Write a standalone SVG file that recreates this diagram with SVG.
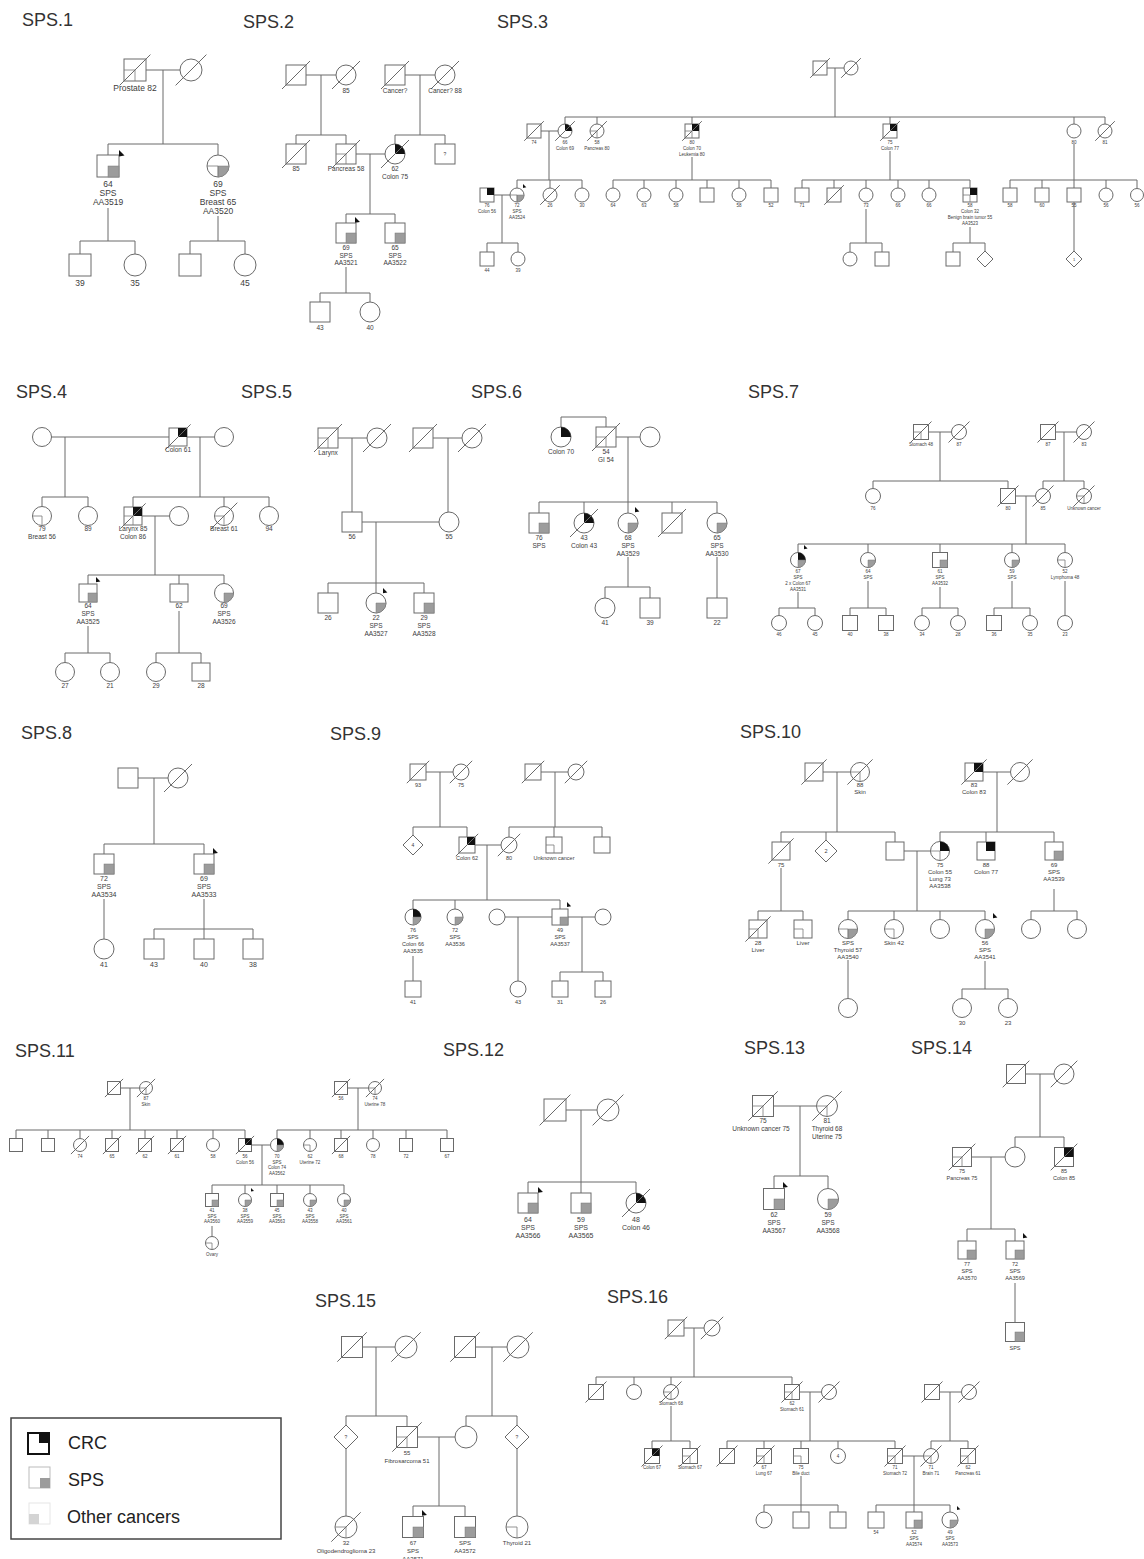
<svg xmlns="http://www.w3.org/2000/svg" width="1144" height="1559" viewBox="0 0 1144 1559">
<defs>
<style>
text{font-family:"Liberation Sans",Arial,sans-serif;fill:#3c3c3c;text-anchor:middle}
.h{font-size:18px;fill:#333;text-anchor:start}
.lg{font-size:18px;fill:#222;text-anchor:start}
.n{fill:#fff;stroke:#6a6a6a;stroke-width:1}
.c{fill:none;stroke:#6a6a6a;stroke-width:1}
.q{fill:#9c9c9c;stroke:#7a7a7a;stroke-width:.5}
.k{fill:#111}
.o{fill:none;stroke:#7a7a7a;stroke-width:.8}
</style>
<path id="pb" d="M0,0 L0,6.5 L5.5,5.5 Z" fill="#111"/>
</defs>
<rect width="1144" height="1559" fill="#fff"/>

<!-- SPS.1 -->
<g id="sps1" font-size="8.5">
<text class="h" x="22" y="26">SPS.1</text>
<g id="sps1-links" class="c"><path d="M146,70H180M163,70V144M108,144H218M108,144V155M218,144V155M108,208V241M80,241H135M80,241V254M135,241V254M218,216V241M190,241H245M190,241V254M245,241V254"/></g>
<g id="sps1-i1"><rect class="n" x="124" y="59" width="22" height="22"/><path class="o" d="M124,70h11v11"/><path class="c" d="M119.6,85.4l30.8,-30.8"/><text x="135" y="91">Prostate 82</text></g>
<g id="sps1-i2"><circle class="n" cx="191" cy="70" r="11"/><path class="c" d="M175.6,85.4l30.8,-30.8"/></g>
<g id="sps1-ii1"><rect class="n" x="97" y="155" width="22" height="22"/><rect class="q" x="108" y="166" width="11" height="11"/><use href="#pb" transform="translate(119,150)"/><text x="108" y="187">64<tspan x="108" dy="9">SPS</tspan><tspan x="108" dy="9">AA3519</tspan></text></g>
<g id="sps1-ii2"><circle class="n" cx="218" cy="166" r="11"/><path class="q" d="M218,166h11a11,11 0 0 1 -11,11z"/><path class="o" d="M207,166h11v11"/><text x="218" y="187">69<tspan x="218" dy="9">SPS</tspan><tspan x="218" dy="9">Breast 65</tspan><tspan x="218" dy="9">AA3520</tspan></text></g>
<g id="sps1-iii1"><rect class="n" x="69" y="254" width="22" height="22"/><text x="80" y="286">39</text></g>
<g id="sps1-iii2"><circle class="n" cx="135" cy="265" r="11"/><text x="135" y="286">35</text></g>
<g id="sps1-iii3"><rect class="n" x="179" y="254" width="22" height="22"/></g>
<g id="sps1-iii4"><circle class="n" cx="245" cy="265" r="11"/><text x="245" y="286">45</text></g>
</g>

<!-- SPS.2 -->
<g id="sps2" font-size="6.5">
<text class="h" x="243" y="28">SPS.2</text>
<g id="sps2-links" class="c"><path d="M306,75H336M321,75V135M296,135H346M296,135V144M346,135V144M405,75H435M420,75V135M395,135H445M395,135V144M445,135V144M356,154H385M370,154V214M346,214H395M346,214V223M395,214V223M346,267V293M320,293H370M320,293V302M370,293V302"/></g>
<g id="sps2-i1"><rect class="n" x="286" y="65" width="20" height="20"/><path class="c" d="M282,89l28,-28"/></g>
<g id="sps2-i2"><circle class="n" cx="346" cy="75" r="10"/><path class="c" d="M332,89l28,-28"/><text x="346" y="93">85</text></g>
<g id="sps2-i3"><rect class="n" x="385" y="65" width="20" height="20"/><path class="c" d="M381,89l28,-28"/><text x="395" y="93">Cancer?</text></g>
<g id="sps2-i4"><circle class="n" cx="445" cy="75" r="10"/><path class="c" d="M431,89l28,-28"/><text x="445" y="93">Cancer? 88</text></g>
<g id="sps2-ii1"><rect class="n" x="286" y="144" width="20" height="20"/><path class="c" d="M282,168l28,-28"/><text x="296" y="171">85</text></g>
<g id="sps2-ii2"><rect class="n" x="336" y="144" width="20" height="20"/><path class="o" d="M336,154h10v10"/><path class="c" d="M332,168l28,-28"/><text x="346" y="171">Pancreas 58</text></g>
<g id="sps2-ii3"><circle class="n" cx="395" cy="154" r="10"/><path class="k" d="M395,154v-10a10,10 0 0 1 10,10z"/><path class="c" d="M381,168l28,-28"/><text x="395" y="171">62<tspan x="395" dy="7.5">Colon 75</tspan></text></g>
<g id="sps2-ii4"><rect class="n" x="435" y="144" width="20" height="20"/><text x="445" y="156" font-size="5">?</text></g>
<g id="sps2-iii1"><rect class="n" x="336" y="223" width="20" height="20"/><rect class="q" x="346" y="233" width="10" height="10"/><use href="#pb" transform="translate(355,217) scale(.9)"/><text x="346" y="250">69<tspan x="346" dy="7.5">SPS</tspan><tspan x="346" dy="7.5">AA3521</tspan></text></g>
<g id="sps2-iii2"><rect class="n" x="385" y="223" width="20" height="20"/><rect class="q" x="395" y="233" width="10" height="10"/><text x="395" y="250">65<tspan x="395" dy="7.5">SPS</tspan><tspan x="395" dy="7.5">AA3522</tspan></text></g>
<g id="sps2-iv1"><rect class="n" x="310" y="302" width="20" height="20"/><text x="320" y="330">43</text></g>
<g id="sps2-iv2"><circle class="n" cx="370" cy="312" r="10"/><text x="370" y="330">40</text></g>
</g>

<!-- SPS.3 -->
<g id="sps3" font-size="4.5">
<text class="h" x="497" y="28">SPS.3</text>
<g id="sps3-links" class="c"><path d="M827,68H844M835,68V117M565,117H1105M565,117V124M597,117V124M692,117V124M890,117V124M1074,117V124M1105,117V124M541,131H558M549,131V180M517,180H582M517,180V188M550,180V188M582,180V188M494,195H510M502,195V243M487,243H518M487,243V252M518,243V252M692,157V180M613,180H771M613,180V188M644,180V188M676,180V188M707,180V188M739,180V188M771,180V188M890,151V180M802,180H970M802,180V188M834,180V188M866,180V188M898,180V188M929,180V188M970,180V188M866,209V243M850,243H882M850,243V252M882,243V252M970,227V243M953,243H985M953,243V252M985,243V251M1074,144V180M1010,180H1137M1010,180V188M1042,180V188M1106,180V188M1137,180V188M1074,180V251"/></g>
<g id="sps3-i1"><rect class="n" x="813" y="61" width="14" height="14"/><path class="c" d="M810.2,77.8l19.6,-19.6"/></g>
<g id="sps3-i2"><circle class="n" cx="851" cy="68" r="7"/><path class="c" d="M841.2,77.8l19.6,-19.6"/></g>
<g id="sps3-ii1"><rect class="n" x="527" y="124" width="14" height="14"/><path class="c" d="M524.2,140.8l19.6,-19.6"/><text x="534" y="144">74</text></g>
<g id="sps3-ii2"><circle class="n" cx="565" cy="131" r="7"/><path class="k" d="M565,131v-7a7,7 0 0 1 7,7z"/><path class="c" d="M555.2,140.8l19.6,-19.6"/><text x="565" y="144">66<tspan x="565" dy="6">Colon 69</tspan></text></g>
<g id="sps3-ii3"><circle class="n" cx="597" cy="131" r="7"/><path class="o" d="M590,131h7v7"/><path class="c" d="M587.2,140.8l19.6,-19.6"/><text x="597" y="144">58<tspan x="597" dy="6">Pancreas 80</tspan></text></g>
<g id="sps3-ii4"><rect class="n" x="685" y="124" width="14" height="14"/><rect class="k" x="692" y="124" width="7" height="7"/><path class="o" d="M685,131h7v7"/><path class="c" d="M682.2,140.8l19.6,-19.6"/><text x="692" y="144">80<tspan x="692" dy="6">Colon 70</tspan><tspan x="692" dy="6">Leukemia 80</tspan></text></g>
<g id="sps3-ii5"><rect class="n" x="883" y="124" width="14" height="14"/><rect class="k" x="890" y="124" width="7" height="7"/><path class="c" d="M880.2,140.8l19.6,-19.6"/><text x="890" y="144">75<tspan x="890" dy="6">Colon 77</tspan></text></g>
<g id="sps3-ii6"><circle class="n" cx="1074" cy="131" r="7"/><text x="1074" y="144">80</text></g>
<g id="sps3-ii7"><circle class="n" cx="1105" cy="131" r="7"/><path class="c" d="M1095.2,140.8l19.6,-19.6"/><text x="1105" y="144">81</text></g>
<g id="sps3-iii1"><rect class="n" x="480" y="188" width="14" height="14"/><rect class="k" x="487" y="188" width="7" height="7"/><text x="487" y="207">76<tspan x="487" dy="6">Colon 56</tspan></text></g>
<g id="sps3-iii2"><circle class="n" cx="517" cy="195" r="7"/><path class="q" d="M517,195h7a7,7 0 0 1 -7,7z"/><path class="o" d="M510,195h7v7"/><use href="#pb" transform="translate(523,184) scale(.6)"/><text x="517" y="207">72<tspan x="517" dy="6">SPS</tspan><tspan x="517" dy="6">AA3524</tspan></text></g>
<g id="sps3-iii3"><circle class="n" cx="550" cy="195" r="7"/><path class="c" d="M540.2,204.8l19.6,-19.6"/><text x="550" y="207">26</text></g>
<g id="sps3-iii4"><circle class="n" cx="582" cy="195" r="7"/><text x="582" y="207">30</text></g>
<g id="sps3-iii5"><circle class="n" cx="613" cy="195" r="7"/><text x="613" y="207">64</text></g>
<g id="sps3-iii6"><circle class="n" cx="644" cy="195" r="7"/><text x="644" y="207">63</text></g>
<g id="sps3-iii7"><circle class="n" cx="676" cy="195" r="7"/><text x="676" y="207">58</text></g>
<g id="sps3-iii8"><rect class="n" x="700" y="188" width="14" height="14"/></g>
<g id="sps3-iii9"><circle class="n" cx="739" cy="195" r="7"/><text x="739" y="207">58</text></g>
<g id="sps3-iii10"><rect class="n" x="764" y="188" width="14" height="14"/><text x="771" y="207">52</text></g>
<g id="sps3-iii11"><rect class="n" x="795" y="188" width="14" height="14"/><text x="802" y="207">71</text></g>
<g id="sps3-iii12"><rect class="n" x="827" y="188" width="14" height="14"/><path class="c" d="M824.2,204.8l19.6,-19.6"/></g>
<g id="sps3-iii13"><circle class="n" cx="866" cy="195" r="7"/><text x="866" y="207">73</text></g>
<g id="sps3-iii14"><circle class="n" cx="898" cy="195" r="7"/><text x="898" y="207">66</text></g>
<g id="sps3-iii15"><circle class="n" cx="929" cy="195" r="7"/><text x="929" y="207">66</text></g>
<g id="sps3-iii16"><rect class="n" x="963" y="188" width="14" height="14"/><rect class="k" x="970" y="188" width="7" height="7"/><path class="o" d="M963,195h7v7"/><text x="970" y="207">58<tspan x="970" dy="6">Colon 32</tspan><tspan x="970" dy="6">Benign brain tumor 55</tspan><tspan x="970" dy="6">AA3523</tspan></text></g>
<g id="sps3-iii17"><rect class="n" x="1003" y="188" width="14" height="14"/><text x="1010" y="207">58</text></g>
<g id="sps3-iii18"><rect class="n" x="1035" y="188" width="14" height="14"/><text x="1042" y="207">60</text></g>
<g id="sps3-iii19"><rect class="n" x="1067" y="188" width="14" height="14"/><text x="1074" y="207">55</text></g>
<g id="sps3-iii20"><circle class="n" cx="1106" cy="195" r="7"/><text x="1106" y="207">56</text></g>
<g id="sps3-iii21"><circle class="n" cx="1137" cy="195" r="6.5"/><text x="1137" y="207">56</text></g>
<g id="sps3-iv1"><rect class="n" x="480" y="252" width="14" height="14"/><text x="487" y="272">44</text></g>
<g id="sps3-iv2"><circle class="n" cx="518" cy="259" r="7"/><text x="518" y="272">39</text></g>
<g id="sps3-iv3"><circle class="n" cx="850" cy="259" r="7"/></g>
<g id="sps3-iv4"><rect class="n" x="875" y="252" width="14" height="14"/></g>
<g id="sps3-iv5"><rect class="n" x="946" y="252" width="14" height="14"/></g>
<g id="sps3-iv6"><polygon class="n" points="985,251 993,259 985,267 977,259"/></g>
<g id="sps3-iv7"><polygon class="n" points="1074,251 1082,259 1074,267 1066,259"/><text x="1074" y="261" font-size="4">1</text></g>
</g>

<!-- SPS.4 -->
<g id="sps4" font-size="6.5">
<text class="h" x="16" y="398">SPS.4</text>
<g id="sps4-links" class="c"><path d="M51.5,437H169M65,437V497M42,497H88M42,497V506.5M88,497V506.5M187,437H214.5M200,437V497M133,497H269M133,497V507M224,497V506.5M269,497V506.5M142,516H169.5M155,516V575M88,575H224M88,575V584M179,575V584M224,575V583.5M88,626V653M65,653H110M65,653V662.5M110,653V662.5M179,611V653M156,653H201M156,653V662.5M201,653V663"/></g>
<g id="sps4-i1"><circle class="n" cx="42" cy="437" r="9.5"/></g>
<g id="sps4-i2"><rect class="n" x="169" y="428" width="18" height="18"/><rect class="k" x="178" y="428" width="9" height="9"/><path class="c" d="M165.4,449.6l25.2,-25.2"/><text x="178" y="452">Colon 61</text></g>
<g id="sps4-i3"><circle class="n" cx="224" cy="437" r="9.5"/></g>
<g id="sps4-ii1"><circle class="n" cx="42" cy="516" r="9.5"/><path class="o" d="M32.5,516h9.5v9.5"/><text x="42" y="531">79<tspan x="42" dy="8">Breast 56</tspan></text></g>
<g id="sps4-ii2"><circle class="n" cx="88" cy="516" r="9.5"/><text x="88" y="531">89</text></g>
<g id="sps4-ii3"><rect class="n" x="124" y="507" width="18" height="18"/><rect class="k" x="133" y="507" width="9" height="9"/><path class="o" d="M124,516h9v9"/><path class="c" d="M120.4,528.6l25.2,-25.2"/><text x="133" y="531">Larynx 85<tspan x="133" dy="8">Colon 86</tspan></text></g>
<g id="sps4-ii4"><circle class="n" cx="179" cy="516" r="9.5"/></g>
<g id="sps4-ii5"><circle class="n" cx="224" cy="516" r="9.5"/><path class="o" d="M214.5,516h9.5v9.5"/><path class="c" d="M210.7,529.3l26.6,-26.6"/><text x="224" y="531">Breast 61</text></g>
<g id="sps4-ii6"><circle class="n" cx="269" cy="516" r="9.5"/><text x="269" y="531">94</text></g>
<g id="sps4-iii1"><rect class="n" x="79" y="584" width="18" height="18"/><rect class="q" x="88" y="593" width="9" height="9"/><use href="#pb" transform="translate(96,577) scale(.8)"/><text x="88" y="608">64<tspan x="88" dy="8">SPS</tspan><tspan x="88" dy="8">AA3525</tspan></text></g>
<g id="sps4-iii2"><rect class="n" x="170" y="584" width="18" height="18"/><text x="179" y="608">62</text></g>
<g id="sps4-iii3"><circle class="n" cx="224" cy="593" r="9.5"/><path class="q" d="M224,593h9.5a9.5,9.5 0 0 1 -9.5,9.5z"/><text x="224" y="608">69<tspan x="224" dy="8">SPS</tspan><tspan x="224" dy="8">AA3526</tspan></text></g>
<g id="sps4-iv1"><circle class="n" cx="65" cy="672" r="9.5"/><text x="65" y="688">27</text></g>
<g id="sps4-iv2"><circle class="n" cx="110" cy="672" r="9.5"/><text x="110" y="688">21</text></g>
<g id="sps4-iv3"><circle class="n" cx="156" cy="672" r="9.5"/><text x="156" y="688">29</text></g>
<g id="sps4-iv4"><rect class="n" x="192" y="663" width="18" height="18"/><text x="201" y="688">28</text></g>
</g>

<!-- SPS.5 -->
<g id="sps5" font-size="6.5">
<text class="h" x="241" y="398">SPS.5</text>
<g id="sps5-links" class="c"><path d="M338,438H367M352,438V512M433,438H462M448,438V512M362,522H439M376,522V583M328,583H424M328,583V593M376,583V593M424,583V593"/></g>
<g id="sps5-i1"><rect class="n" x="318" y="428" width="20" height="20"/><path class="o" d="M318,438h10v10"/><path class="c" d="M314,452l28,-28"/><text x="328" y="455">Larynx</text></g>
<g id="sps5-i2"><circle class="n" cx="377" cy="438" r="10"/><path class="c" d="M363,452l28,-28"/></g>
<g id="sps5-i3"><rect class="n" x="413" y="428" width="20" height="20"/><path class="c" d="M409,452l28,-28"/></g>
<g id="sps5-i4"><circle class="n" cx="472" cy="438" r="10"/><path class="c" d="M458,452l28,-28"/></g>
<g id="sps5-ii1"><rect class="n" x="342" y="512" width="20" height="20"/><text x="352" y="539">56</text></g>
<g id="sps5-ii2"><circle class="n" cx="449" cy="522" r="10"/><text x="449" y="539">55</text></g>
<g id="sps5-iii1"><rect class="n" x="318" y="593" width="20" height="20"/><text x="328" y="620">26</text></g>
<g id="sps5-iii2"><circle class="n" cx="376" cy="603" r="10"/><path class="q" d="M376,603h10a10,10 0 0 1 -10,10z"/><use href="#pb" transform="translate(383,588) scale(.8)"/><text x="376" y="620">22<tspan x="376" dy="8">SPS</tspan><tspan x="376" dy="8">AA3527</tspan></text></g>
<g id="sps5-iii3"><rect class="n" x="414" y="593" width="20" height="20"/><rect class="q" x="424" y="603" width="10" height="10"/><text x="424" y="620">29<tspan x="424" dy="8">SPS</tspan><tspan x="424" dy="8">AA3528</tspan></text></g>
</g>

<!-- SPS.6 -->
<g id="sps6" font-size="6.5">
<text class="h" x="471" y="398">SPS.6</text>
<g id="sps6-links" class="c"><path d="M561,427V417H606V427M616,437H640M628,437V502M539,502H717M539,502V513M584,502V513M628,502V513M672,502V513M717,502V513M628,557V587M605,587H650M605,587V598M650,587V598M717,557V598"/></g>
<g id="sps6-i1"><circle class="n" cx="561" cy="437" r="10"/><path class="k" d="M561,437v-10a10,10 0 0 1 10,10z"/><text x="561" y="454">Colon 70</text></g>
<g id="sps6-i2"><rect class="n" x="596" y="427" width="20" height="20"/><path class="o" d="M596,437h10v10"/><path class="c" d="M592,451l28,-28"/><text x="606" y="454">54<tspan x="606" dy="8">GI 54</tspan></text></g>
<g id="sps6-i3"><circle class="n" cx="650" cy="437" r="10"/></g>
<g id="sps6-ii1"><rect class="n" x="529" y="513" width="20" height="20"/><rect class="q" x="539" y="523" width="10" height="10"/><text x="539" y="540">76<tspan x="539" dy="8">SPS</tspan></text></g>
<g id="sps6-ii2"><circle class="n" cx="584" cy="523" r="10"/><path class="k" d="M584,523v-10a10,10 0 0 1 10,10z"/><path class="c" d="M570,537l28,-28"/><text x="584" y="540">43<tspan x="584" dy="8">Colon 43</tspan></text></g>
<g id="sps6-ii3"><circle class="n" cx="628" cy="523" r="10"/><path class="q" d="M628,523h10a10,10 0 0 1 -10,10z"/><use href="#pb" transform="translate(635,507) scale(.8)"/><text x="628" y="540">68<tspan x="628" dy="8">SPS</tspan><tspan x="628" dy="8">AA3529</tspan></text></g>
<g id="sps6-ii4"><rect class="n" x="662" y="513" width="20" height="20"/><path class="c" d="M658,537l28,-28"/></g>
<g id="sps6-ii5"><circle class="n" cx="717" cy="523" r="10"/><path class="q" d="M717,523h10a10,10 0 0 1 -10,10z"/><text x="717" y="540">65<tspan x="717" dy="8">SPS</tspan><tspan x="717" dy="8">AA3530</tspan></text></g>
<g id="sps6-iii1"><circle class="n" cx="605" cy="608" r="10"/><text x="605" y="625">41</text></g>
<g id="sps6-iii2"><rect class="n" x="640" y="598" width="20" height="20"/><text x="650" y="625">39</text></g>
<g id="sps6-iii3"><rect class="n" x="707" y="598" width="20" height="20"/><text x="717" y="625">22</text></g>
</g>

<!-- SPS.7 -->
<g id="sps7" font-size="4.5">
<text class="h" x="748" y="398">SPS.7</text>
<g id="sps7-links" class="c"><path d="M928.5,432H951.5M940,432V481M873,481H1008M873,481V488.5M1008,481V488.5M1055.5,432H1076.5M1064,432V481M1043,481H1084M1043,481V488.5M1084,481V488.5M1015.5,496H1035.5M1026,496V544M798,544H1065M798,544V552.5M868,544V552.5M940,544V552.5M1012,544V552.5M1065,544V552.5M798,592V608M779,608H815M779,608V615.5M815,608V615.5M868,581V608M850,608H886M850,608V615.5M886,608V615.5M940,587V608M922,608H958M922,608V615.5M958,608V615.5M1012,581V608M994,608H1030M994,608V615.5M1030,608V615.5M1065,581V615.5"/></g>
<g id="sps7-i1"><rect class="n" x="913.5" y="424.5" width="15" height="15"/><path class="o" d="M913.5,432h7.5v7.5"/><path class="c" d="M910.5,442.5l21,-21"/><text x="921" y="446">Stomach 48</text></g>
<g id="sps7-i2"><circle class="n" cx="959" cy="432" r="7.5"/><path class="c" d="M948.5,442.5l21,-21"/><text x="959" y="446">87</text></g>
<g id="sps7-i3"><rect class="n" x="1040.5" y="424.5" width="15" height="15"/><path class="c" d="M1037.5,442.5l21,-21"/><text x="1048" y="446">87</text></g>
<g id="sps7-i4"><circle class="n" cx="1084" cy="432" r="7.5"/><path class="c" d="M1073.5,442.5l21,-21"/><text x="1084" y="446">83</text></g>
<g id="sps7-ii1"><circle class="n" cx="873" cy="496" r="7.5"/><text x="873" y="510">76</text></g>
<g id="sps7-ii2"><rect class="n" x="1000.5" y="488.5" width="15" height="15"/><path class="c" d="M997.5,506.5l21,-21"/><text x="1008" y="510">80</text></g>
<g id="sps7-ii3"><circle class="n" cx="1043" cy="496" r="7.5"/><path class="c" d="M1032.5,506.5l21,-21"/><text x="1043" y="510">85</text></g>
<g id="sps7-ii4"><circle class="n" cx="1084" cy="496" r="7.5"/><path class="o" d="M1076.5,496h7.5v7.5"/><path class="c" d="M1073.5,506.5l21,-21"/><text x="1084" y="510">Unknown cancer</text></g>
<g id="sps7-iii1"><circle class="n" cx="798" cy="560" r="7.5"/><path class="k" d="M798,560v-7.5a7.5,7.5 0 0 1 7.5,7.5z"/><path class="q" d="M798,560h7.5a7.5,7.5 0 0 1 -7.5,7.5z"/><use href="#pb" transform="translate(804,545) scale(.65)"/><text x="798" y="573">67<tspan x="798" dy="6">SPS</tspan><tspan x="798" dy="6">2 x Colon 67</tspan><tspan x="798" dy="6">AA3531</tspan></text></g>
<g id="sps7-iii2"><circle class="n" cx="868" cy="560" r="7.5"/><path class="q" d="M868,560h7.5a7.5,7.5 0 0 1 -7.5,7.5z"/><text x="868" y="573">64<tspan x="868" dy="6">SPS</tspan></text></g>
<g id="sps7-iii3"><rect class="n" x="932.5" y="552.5" width="15" height="15"/><rect class="q" x="940" y="560" width="7.5" height="7.5"/><text x="940" y="573">61<tspan x="940" dy="6">SPS</tspan><tspan x="940" dy="6">AA3532</tspan></text></g>
<g id="sps7-iii4"><circle class="n" cx="1012" cy="560" r="7.5"/><path class="q" d="M1012,560h7.5a7.5,7.5 0 0 1 -7.5,7.5z"/><text x="1012" y="573">59<tspan x="1012" dy="6">SPS</tspan></text></g>
<g id="sps7-iii5"><circle class="n" cx="1065" cy="560" r="7.5"/><path class="o" d="M1057.5,560h7.5v7.5"/><text x="1065" y="573">52<tspan x="1065" dy="6">Lymphoma 48</tspan></text></g>
<g id="sps7-iv1"><circle class="n" cx="779" cy="623" r="7.5"/><text x="779" y="636">46</text></g>
<g id="sps7-iv2"><circle class="n" cx="815" cy="623" r="7.5"/><text x="815" y="636">45</text></g>
<g id="sps7-iv3"><rect class="n" x="842.5" y="615.5" width="15" height="15"/><text x="850" y="636">40</text></g>
<g id="sps7-iv4"><rect class="n" x="878.5" y="615.5" width="15" height="15"/><text x="886" y="636">38</text></g>
<g id="sps7-iv5"><circle class="n" cx="922" cy="623" r="7.5"/><text x="922" y="636">34</text></g>
<g id="sps7-iv6"><circle class="n" cx="958" cy="623" r="7.5"/><text x="958" y="636">28</text></g>
<g id="sps7-iv7"><rect class="n" x="986.5" y="615.5" width="15" height="15"/><text x="994" y="636">36</text></g>
<g id="sps7-iv8"><circle class="n" cx="1030" cy="623" r="7.5"/><text x="1030" y="636">35</text></g>
<g id="sps7-iv9"><circle class="n" cx="1065" cy="623" r="7.5"/><text x="1065" y="636">23</text></g>
</g>

<!-- SPS.8 -->
<g id="sps8" font-size="7">
<text class="h" x="21" y="739">SPS.8</text>
<g id="sps8-links" class="c"><path d="M138,778H168M154,778V844M104,844H204M104,844V854M204,844V854M104,899V939M204,899V929M154,929H253M154,929V939M204,929V939M253,929V939"/></g>
<g id="sps8-i1"><rect class="n" x="118" y="768" width="20" height="20"/></g>
<g id="sps8-i2"><circle class="n" cx="178" cy="778" r="10"/><path class="c" d="M164,792l28,-28"/></g>
<g id="sps8-ii1"><rect class="n" x="94" y="854" width="20" height="20"/><rect class="q" x="104" y="864" width="10" height="10"/><text x="104" y="881">72<tspan x="104" dy="8">SPS</tspan><tspan x="104" dy="8">AA3534</tspan></text></g>
<g id="sps8-ii2"><rect class="n" x="194" y="854" width="20" height="20"/><rect class="q" x="204" y="864" width="10" height="10"/><use href="#pb" transform="translate(213,848) scale(.9)"/><text x="204" y="881">69<tspan x="204" dy="8">SPS</tspan><tspan x="204" dy="8">AA3533</tspan></text></g>
<g id="sps8-iii1"><circle class="n" cx="104" cy="949" r="10"/><text x="104" y="967">41</text></g>
<g id="sps8-iii2"><rect class="n" x="144" y="939" width="20" height="20"/><text x="154" y="967">43</text></g>
<g id="sps8-iii3"><rect class="n" x="194" y="939" width="20" height="20"/><text x="204" y="967">40</text></g>
<g id="sps8-iii4"><rect class="n" x="243" y="939" width="20" height="20"/><text x="253" y="967">38</text></g>
</g>

<!-- SPS.9 -->
<g id="sps9" font-size="5.5">
<text class="h" x="330" y="740">SPS.9</text>
<g id="sps9-links" class="c"><path d="M426,772H453M440,772V827M413,827H467M413,827V835M467,827V837M541,772H568M555,772V827M509,827H602M509,827V837M554,827V837M602,827V837M475,845H501M487,845V900M413,900H560M413,900V909M455,900V909M560,900V909M505,917H552M518,917V981M568,917H595M582,917V972M560,972H603M560,972V981M603,972V981M413,956V981"/></g>
<g id="sps9-i1"><rect class="n" x="410" y="764" width="16" height="16"/><path class="c" d="M406.8,783.2l22.4,-22.4"/><text x="418" y="787">93</text></g>
<g id="sps9-i2"><circle class="n" cx="461" cy="772" r="8"/><path class="c" d="M449.8,783.2l22.4,-22.4"/><text x="461" y="787">75</text></g>
<g id="sps9-i3"><rect class="n" x="525" y="764" width="16" height="16"/><path class="c" d="M521.8,783.2l22.4,-22.4"/></g>
<g id="sps9-i4"><circle class="n" cx="576" cy="772" r="8"/><path class="c" d="M564.8,783.2l22.4,-22.4"/></g>
<g id="sps9-ii1"><polygon class="n" points="413,835 423,845 413,855 403,845"/><text x="413" y="847" font-size="5">4</text></g>
<g id="sps9-ii2"><rect class="n" x="459" y="837" width="16" height="16"/><rect class="k" x="467" y="837" width="8" height="8"/><path class="c" d="M455.8,856.2l22.4,-22.4"/><text x="467" y="860">Colon 62</text></g>
<g id="sps9-ii3"><circle class="n" cx="509" cy="845" r="8"/><path class="c" d="M497.8,856.2l22.4,-22.4"/><text x="509" y="860">80</text></g>
<g id="sps9-ii4"><rect class="n" x="546" y="837" width="16" height="16"/><path class="o" d="M546,845h8v8"/><text x="554" y="860">Unknown cancer</text></g>
<g id="sps9-ii5"><rect class="n" x="594" y="837" width="16" height="16"/></g>
<g id="sps9-iii1"><circle class="n" cx="413" cy="917" r="8"/><path class="k" d="M413,917v-8a8,8 0 0 1 8,8z"/><path class="q" d="M413,917h8a8,8 0 0 1 -8,8z"/><text x="413" y="932">76<tspan x="413" dy="7">SPS</tspan><tspan x="413" dy="7">Colon 66</tspan><tspan x="413" dy="7">AA3535</tspan></text></g>
<g id="sps9-iii2"><circle class="n" cx="455" cy="917" r="8"/><path class="q" d="M455,917h8a8,8 0 0 1 -8,8z"/><text x="455" y="932">72<tspan x="455" dy="7">SPS</tspan><tspan x="455" dy="7">AA3536</tspan></text></g>
<g id="sps9-iii3"><circle class="n" cx="497" cy="917" r="8"/></g>
<g id="sps9-iii4"><rect class="n" x="552" y="909" width="16" height="16"/><rect class="q" x="560" y="917" width="8" height="8"/><use href="#pb" transform="translate(567,902) scale(.75)"/><text x="560" y="932">49<tspan x="560" dy="7">SPS</tspan><tspan x="560" dy="7">AA3537</tspan></text></g>
<g id="sps9-iii5"><circle class="n" cx="603" cy="917" r="8"/></g>
<g id="sps9-iv1"><rect class="n" x="405" y="981" width="16" height="16"/><text x="413" y="1004">41</text></g>
<g id="sps9-iv2"><circle class="n" cx="518" cy="989" r="8"/><text x="518" y="1004">43</text></g>
<g id="sps9-iv3"><rect class="n" x="552" y="981" width="16" height="16"/><text x="560" y="1004">31</text></g>
<g id="sps9-iv4"><rect class="n" x="595" y="981" width="16" height="16"/><text x="603" y="1004">26</text></g>
</g>

<!-- SPS.10 -->
<g id="sps10" font-size="6">
<text class="h" x="740" y="738">SPS.10</text>
<g id="sps10-links" class="c"><path d="M823,772H850.5M837,772V832M781,832H895M781,832V842M826,832V840M895,832V842M983,772H1010.5M997,772V832M940,832H1054M940,832V841.5M986,832V842M1054,832V842M904,851H930.5M917,851V911M848,911H985M848,911V919.5M894,911V919.5M940,911V919.5M985,911V919.5M781,868V911M758,911H803M758,911V920M803,911V920M1054,889V911M1031,911H1077M1031,911V919.5M1077,911V919.5M848,960V998.5M985,961V989M962,989H1008M962,989V998.5M1008,989V998.5"/></g>
<g id="sps10-i1"><rect class="n" x="805" y="763" width="18" height="18"/><path class="c" d="M801.4,784.6l25.2,-25.2"/></g>
<g id="sps10-i2"><circle class="n" cx="860" cy="772" r="9.5"/><path class="o" d="M850.5,772h9.5v9.5"/><path class="c" d="M847.4,784.6l25.2,-25.2"/><text x="860" y="787">88<tspan x="860" dy="7">Skin</tspan></text></g>
<g id="sps10-i3"><rect class="n" x="965" y="763" width="18" height="18"/><rect class="k" x="974" y="763" width="9" height="9"/><path class="c" d="M961.4,784.6l25.2,-25.2"/><text x="974" y="787">83<tspan x="974" dy="7">Colon 83</tspan></text></g>
<g id="sps10-i4"><circle class="n" cx="1020" cy="772" r="9.5"/><path class="c" d="M1007.4,784.6l25.2,-25.2"/></g>
<g id="sps10-ii1"><rect class="n" x="772" y="842" width="18" height="18"/><path class="c" d="M768.4,863.6l25.2,-25.2"/><text x="781" y="867">75</text></g>
<g id="sps10-ii2"><polygon class="n" points="826,840 837,851 826,862 815,851"/><text x="826" y="853" font-size="5.5">2</text></g>
<g id="sps10-ii3"><rect class="n" x="886" y="842" width="18" height="18"/></g>
<g id="sps10-ii4"><circle class="n" cx="940" cy="851" r="9.5"/><path class="k" d="M940,851v-9.5a9.5,9.5 0 0 1 9.5,9.5z"/><path class="o" d="M930.5,851h9.5v9.5"/><text x="940" y="867">75<tspan x="940" dy="7">Colon 55</tspan><tspan x="940" dy="7">Lung 73</tspan><tspan x="940" dy="7">AA3538</tspan></text></g>
<g id="sps10-ii5"><rect class="n" x="977" y="842" width="18" height="18"/><rect class="k" x="986" y="842" width="9" height="9"/><text x="986" y="867">88<tspan x="986" dy="7">Colon 77</tspan></text></g>
<g id="sps10-ii6"><rect class="n" x="1045" y="842" width="18" height="18"/><rect class="q" x="1054" y="851" width="9" height="9"/><text x="1054" y="867">69<tspan x="1054" dy="7">SPS</tspan><tspan x="1054" dy="7">AA3539</tspan></text></g>
<g id="sps10-iii1"><rect class="n" x="749" y="920" width="18" height="18"/><path class="o" d="M749,929h9v9"/><path class="c" d="M745.4,941.6l25.2,-25.2"/><text x="758" y="945">28<tspan x="758" dy="7">Liver</tspan></text></g>
<g id="sps10-iii2"><rect class="n" x="794" y="920" width="18" height="18"/><path class="o" d="M794,929h9v9"/><text x="803" y="945">Liver</text></g>
<g id="sps10-iii3"><circle class="n" cx="848" cy="929" r="9.5"/><path class="q" d="M848,929h9.5a9.5,9.5 0 0 1 -9.5,9.5z"/><path class="o" d="M838.5,929h9.5v9.5"/><text x="848" y="945">SPS<tspan x="848" dy="7">Thyroid 57</tspan><tspan x="848" dy="7">AA3540</tspan></text></g>
<g id="sps10-iii4"><circle class="n" cx="894" cy="929" r="9.5"/><path class="o" d="M884.5,929h9.5v9.5"/><text x="894" y="945">Skin 42</text></g>
<g id="sps10-iii5"><circle class="n" cx="940" cy="929" r="9.5"/></g>
<g id="sps10-iii6"><circle class="n" cx="985" cy="929" r="9.5"/><path class="q" d="M985,929h9.5a9.5,9.5 0 0 1 -9.5,9.5z"/><use href="#pb" transform="translate(993,913) scale(.8)"/><text x="985" y="945">56<tspan x="985" dy="7">SPS</tspan><tspan x="985" dy="7">AA3541</tspan></text></g>
<g id="sps10-iii7"><circle class="n" cx="1031" cy="929" r="9.5"/></g>
<g id="sps10-iii8"><circle class="n" cx="1077" cy="929" r="9.5"/></g>
<g id="sps10-iv1"><circle class="n" cx="848" cy="1008" r="9.5"/></g>
<g id="sps10-iv2"><circle class="n" cx="962" cy="1008" r="9.5"/><text x="962" y="1025">30</text></g>
<g id="sps10-iv3"><circle class="n" cx="1008" cy="1008" r="9.5"/><text x="1008" y="1025">23</text></g>
</g>

<!-- SPS.11 -->
<g id="sps11" font-size="4.5">
<text class="h" x="15" y="1057">SPS.11</text>
<g id="sps11-links" class="c"><path d="M120.5,1088H139.5M130,1088V1130M16,1130H245M16,1130V1138.5M48,1130V1138.5M80,1130V1138.5M112,1130V1138.5M145,1130V1138.5M177,1130V1138.5M213,1130V1138.5M245,1130V1138.5M347.5,1088H368.5M358,1088V1130M277,1130H447M277,1130V1138.5M310,1130V1138.5M341,1130V1138.5M373,1130V1138.5M406,1130V1138.5M447,1130V1138.5M251.5,1145H270.5M262,1145V1185M212,1185H344M212,1185V1193.5M245,1185V1193.5M277,1185V1193.5M310,1185V1193.5M344,1185V1193.5M212,1226V1236.5"/></g>
<g id="sps11-i1"><rect class="n" x="107.5" y="1081.5" width="13" height="13"/><path class="c" d="M104.9,1097.1l18.2,-18.2"/></g>
<g id="sps11-i2"><circle class="n" cx="146" cy="1088" r="6.5"/><path class="o" d="M139.5,1088h6.5v6.5"/><path class="c" d="M136.9,1097.1l18.2,-18.2"/><text x="146" y="1100">87<tspan x="146" dy="5.5">Skin</tspan></text></g>
<g id="sps11-i3"><rect class="n" x="334.5" y="1081.5" width="13" height="13"/><path class="c" d="M331.9,1097.1l18.2,-18.2"/><text x="341" y="1100">56</text></g>
<g id="sps11-i4"><circle class="n" cx="375" cy="1088" r="6.5"/><path class="o" d="M368.5,1088h6.5v6.5"/><path class="c" d="M365.9,1097.1l18.2,-18.2"/><text x="375" y="1100">74<tspan x="375" dy="5.5">Uterine 78</tspan></text></g>
<g id="sps11-ii1"><rect class="n" x="9.5" y="1138.5" width="13" height="13"/></g>
<g id="sps11-ii2"><rect class="n" x="41.5" y="1138.5" width="13" height="13"/></g>
<g id="sps11-ii3"><circle class="n" cx="80" cy="1145" r="6.5"/><path class="c" d="M70.9,1154.1l18.2,-18.2"/><text x="80" y="1158">74</text></g>
<g id="sps11-ii4"><rect class="n" x="105.5" y="1138.5" width="13" height="13"/><path class="c" d="M102.9,1154.1l18.2,-18.2"/><text x="112" y="1158">65</text></g>
<g id="sps11-ii5"><rect class="n" x="138.5" y="1138.5" width="13" height="13"/><path class="c" d="M135.9,1154.1l18.2,-18.2"/><text x="145" y="1158">62</text></g>
<g id="sps11-ii6"><rect class="n" x="170.5" y="1138.5" width="13" height="13"/><path class="c" d="M167.9,1154.1l18.2,-18.2"/><text x="177" y="1158">61</text></g>
<g id="sps11-ii7"><circle class="n" cx="213" cy="1145" r="6.5"/><text x="213" y="1158">58</text></g>
<g id="sps11-ii8"><rect class="n" x="238.5" y="1138.5" width="13" height="13"/><rect class="k" x="245" y="1138.5" width="6.5" height="6.5"/><path class="c" d="M235.9,1154.1l18.2,-18.2"/><text x="245" y="1158">56<tspan x="245" dy="5.5">Colon 56</tspan></text></g>
<g id="sps11-ii9"><circle class="n" cx="277" cy="1145" r="6.5"/><path class="k" d="M277,1145v-6.5a6.5,6.5 0 0 1 6.5,6.5z"/><path class="q" d="M277,1145h6.5a6.5,6.5 0 0 1 -6.5,6.5z"/><text x="277" y="1158">70<tspan x="277" dy="5.5">SPS</tspan><tspan x="277" dy="5.5">Colon 74</tspan><tspan x="277" dy="5.5">AA3562</tspan></text></g>
<g id="sps11-ii10"><circle class="n" cx="310" cy="1145" r="6.5"/><path class="o" d="M303.5,1145h6.5v6.5"/><text x="310" y="1158">62<tspan x="310" dy="5.5">Uterine 72</tspan></text></g>
<g id="sps11-ii11"><rect class="n" x="334.5" y="1138.5" width="13" height="13"/><path class="c" d="M331.9,1154.1l18.2,-18.2"/><text x="341" y="1158">68</text></g>
<g id="sps11-ii12"><circle class="n" cx="373" cy="1145" r="6.5"/><text x="373" y="1158">78</text></g>
<g id="sps11-ii13"><rect class="n" x="399.5" y="1138.5" width="13" height="13"/><text x="406" y="1158">72</text></g>
<g id="sps11-ii14"><rect class="n" x="440.5" y="1138.5" width="13" height="13"/><text x="447" y="1158">67</text></g>
<g id="sps11-iii1"><rect class="n" x="205.5" y="1193.5" width="13" height="13"/><rect class="q" x="212" y="1200" width="6.5" height="6.5"/><text x="212" y="1212">41<tspan x="212" dy="5.5">SPS</tspan><tspan x="212" dy="5.5">AA3560</tspan></text></g>
<g id="sps11-iii2"><circle class="n" cx="245" cy="1200" r="6.5"/><path class="q" d="M245,1200h6.5a6.5,6.5 0 0 1 -6.5,6.5z"/><use href="#pb" transform="translate(251,1188) scale(.55)"/><text x="245" y="1212">38<tspan x="245" dy="5.5">SPS</tspan><tspan x="245" dy="5.5">AA3559</tspan></text></g>
<g id="sps11-iii3"><rect class="n" x="270.5" y="1193.5" width="13" height="13"/><rect class="q" x="277" y="1200" width="6.5" height="6.5"/><text x="277" y="1212">45<tspan x="277" dy="5.5">SPS</tspan><tspan x="277" dy="5.5">AA3563</tspan></text></g>
<g id="sps11-iii4"><circle class="n" cx="310" cy="1200" r="6.5"/><path class="q" d="M310,1200h6.5a6.5,6.5 0 0 1 -6.5,6.5z"/><text x="310" y="1212">43<tspan x="310" dy="5.5">SPS</tspan><tspan x="310" dy="5.5">AA3558</tspan></text></g>
<g id="sps11-iii5"><circle class="n" cx="344" cy="1200" r="6.5"/><path class="q" d="M344,1200h6.5a6.5,6.5 0 0 1 -6.5,6.5z"/><text x="344" y="1212">40<tspan x="344" dy="5.5">SPS</tspan><tspan x="344" dy="5.5">AA3561</tspan></text></g>
<g id="sps11-iv1"><circle class="n" cx="212" cy="1243" r="6.5"/><path class="o" d="M205.5,1243h6.5v6.5"/><text x="212" y="1256">Ovary</text></g>
</g>

<!-- SPS.12 -->
<g id="sps12" font-size="7">
<text class="h" x="443" y="1056">SPS.12</text>
<g id="sps12-links" class="c"><path d="M566,1110H597M581,1110V1182M528,1182H636M528,1182V1193M581,1182V1193M636,1182V1193"/></g>
<g id="sps12-i1"><rect class="n" x="544" y="1099" width="22" height="22"/><path class="c" d="M539.6,1125.4l30.8,-30.8"/></g>
<g id="sps12-i2"><circle class="n" cx="608" cy="1110" r="11"/><path class="c" d="M592.6,1125.4l30.8,-30.8"/></g>
<g id="sps12-ii1"><rect class="n" x="518" y="1193" width="20" height="20"/><rect class="q" x="528" y="1203" width="10" height="10"/><use href="#pb" transform="translate(538,1187) scale(.9)"/><text x="528" y="1222">64<tspan x="528" dy="8">SPS</tspan><tspan x="528" dy="8">AA3566</tspan></text></g>
<g id="sps12-ii2"><rect class="n" x="571" y="1193" width="20" height="20"/><rect class="q" x="581" y="1203" width="10" height="10"/><text x="581" y="1222">59<tspan x="581" dy="8">SPS</tspan><tspan x="581" dy="8">AA3565</tspan></text></g>
<g id="sps12-ii3"><circle class="n" cx="636" cy="1203" r="10"/><path class="k" d="M636,1203v-10a10,10 0 0 1 10,10z"/><path class="c" d="M622,1217l28,-28"/><text x="636" y="1222">48<tspan x="636" dy="8">Colon 46</tspan></text></g>
</g>

<!-- SPS.13 -->
<g id="sps13" font-size="6.5">
<text class="h" x="744" y="1054">SPS.13</text>
<g id="sps13-links" class="c"><path d="M773.5,1106H816.5M800,1106V1176M774,1176H828M774,1176V1188.5M828,1176V1188.5"/></g>
<g id="sps13-i1"><rect class="n" x="752.5" y="1095.5" width="21" height="21"/><path class="o" d="M752.5,1106h10.5v10.5"/><path class="c" d="M748.3,1120.7l29.4,-29.4"/><text x="763" y="1123">75</text><text x="761" y="1131">Unknown cancer 75</text></g>
<g id="sps13-i2"><circle class="n" cx="827" cy="1106" r="10.5"/><path class="o" d="M816.5,1106h10.5v10.5"/><path class="c" d="M812.3,1120.7l29.4,-29.4"/><text x="827" y="1123">81<tspan x="827" dy="8">Thyroid 68</tspan><tspan x="827" dy="8">Uterine 75</tspan></text></g>
<g id="sps13-ii1"><rect class="n" x="763.5" y="1188.5" width="21" height="21"/><rect class="q" x="774" y="1199" width="10.5" height="10.5"/><use href="#pb" transform="translate(783,1182) scale(.9)"/><text x="774" y="1217">62<tspan x="774" dy="8">SPS</tspan><tspan x="774" dy="8">AA3567</tspan></text></g>
<g id="sps13-ii2"><circle class="n" cx="828" cy="1199" r="10.5"/><path class="q" d="M828,1199h10.5a10.5,10.5 0 0 1 -10.5,10.5z"/><text x="828" y="1217">59<tspan x="828" dy="8">SPS</tspan><tspan x="828" dy="8">AA3568</tspan></text></g>
</g>

<!-- SPS.14 -->
<g id="sps14" font-size="5.5">
<text class="h" x="911" y="1054">SPS.14</text>
<g id="sps14-links" class="c"><path d="M1025.5,1074H1054M1040,1074V1137M1015,1137H1064M1015,1137V1147M1064,1137V1147.5M971.5,1157H1005M991,1157V1229M967,1229H1015M967,1229V1241M1015,1229V1241M1015,1283V1322.5"/></g>
<g id="sps14-i1"><rect class="n" x="1006.5" y="1064.5" width="19" height="19"/><path class="c" d="M1002.7,1087.3l26.6,-26.6"/></g>
<g id="sps14-i2"><circle class="n" cx="1064" cy="1074" r="10"/><path class="c" d="M1050.7,1087.3l26.6,-26.6"/></g>
<g id="sps14-ii1"><rect class="n" x="952.5" y="1147.5" width="19" height="19"/><path class="o" d="M952.5,1157h9.5v9.5"/><path class="c" d="M948.7,1170.3l26.6,-26.6"/><text x="962" y="1173">75<tspan x="962" dy="7">Pancreas 75</tspan></text></g>
<g id="sps14-ii2"><circle class="n" cx="1015" cy="1157" r="10"/></g>
<g id="sps14-ii3"><rect class="n" x="1054.5" y="1147.5" width="19" height="19"/><rect class="k" x="1064" y="1147.5" width="9.5" height="9.5"/><path class="c" d="M1050.7,1170.3l26.6,-26.6"/><text x="1064" y="1173">85<tspan x="1064" dy="7">Colon 85</tspan></text></g>
<g id="sps14-iii1"><rect class="n" x="958" y="1241" width="18" height="18"/><rect class="q" x="967" y="1250" width="9" height="9"/><text x="967" y="1266">77<tspan x="967" dy="7">SPS</tspan><tspan x="967" dy="7">AA3570</tspan></text></g>
<g id="sps14-iii2"><rect class="n" x="1006" y="1241" width="18" height="18"/><rect class="q" x="1015" y="1250" width="9" height="9"/><use href="#pb" transform="translate(1023,1233) scale(.8)"/><text x="1015" y="1266">72<tspan x="1015" dy="7">SPS</tspan><tspan x="1015" dy="7">AA3569</tspan></text></g>
<g id="sps14-iv1"><rect class="n" x="1005.5" y="1322.5" width="19" height="19"/><rect class="q" x="1015" y="1332" width="9.5" height="9.5"/><text x="1015" y="1350">SPS</text></g>
</g>

<!-- SPS.15 -->
<g id="sps15" font-size="6">
<text class="h" x="315" y="1307">SPS.15</text>
<g id="sps15-links" class="c"><path d="M362.5,1347H395M376,1347V1416M346,1416H407M346,1416V1425M407,1416V1426.5M475.5,1347H507M492,1347V1416M466,1416H517M466,1416V1426M517,1416V1425M417.5,1437H455M439,1437V1506M413,1506H465M413,1506V1516.5M465,1506V1516.5M346,1449V1516M517,1449V1516"/></g>
<g id="sps15-i1"><rect class="n" x="341.5" y="1336.5" width="21" height="21"/><path class="c" d="M337.3,1361.7l29.4,-29.4"/></g>
<g id="sps15-i2"><circle class="n" cx="406" cy="1347" r="11"/><path class="c" d="M391.3,1361.7l29.4,-29.4"/></g>
<g id="sps15-i3"><rect class="n" x="454.5" y="1336.5" width="21" height="21"/><path class="c" d="M450.3,1361.7l29.4,-29.4"/></g>
<g id="sps15-i4"><circle class="n" cx="518" cy="1347" r="11"/><path class="c" d="M503.3,1361.7l29.4,-29.4"/></g>
<g id="sps15-ii1"><polygon class="n" points="346,1425 358,1437 346,1449 334,1437"/><text x="346" y="1439" font-size="5">?</text></g>
<g id="sps15-ii2"><rect class="n" x="396.5" y="1426.5" width="21" height="21"/><path class="o" d="M396.5,1437h10.5v10.5"/><path class="c" d="M392.3,1451.7l29.4,-29.4"/><text x="407" y="1455">55<tspan x="407" dy="8">Fibrosarcoma 51</tspan></text></g>
<g id="sps15-ii3"><circle class="n" cx="466" cy="1437" r="11"/></g>
<g id="sps15-ii4"><polygon class="n" points="517,1425 529,1437 517,1449 505,1437"/><text x="517" y="1439" font-size="5">?</text></g>
<g id="sps15-iii1"><circle class="n" cx="346" cy="1527" r="11"/><path class="o" d="M335,1527h11v11"/><path class="c" d="M331.3,1541.7l29.4,-29.4"/><text x="346" y="1545">32<tspan x="346" dy="8">Oligodendroglioma 23</tspan></text></g>
<g id="sps15-iii2"><rect class="n" x="402.5" y="1516.5" width="21" height="21"/><rect class="q" x="413" y="1527" width="10.5" height="10.5"/><use href="#pb" transform="translate(422,1510) scale(.9)"/><text x="413" y="1545">67<tspan x="413" dy="8">SPS</tspan><tspan x="413" dy="8">AA3571</tspan></text></g>
<g id="sps15-iii3"><rect class="n" x="454.5" y="1516.5" width="21" height="21"/><rect class="q" x="465" y="1527" width="10.5" height="10.5"/><text x="465" y="1545">SPS<tspan x="465" dy="8">AA3572</tspan></text></g>
<g id="sps15-iii4"><circle class="n" cx="517" cy="1527" r="11"/><path class="o" d="M506,1527h11v11"/><text x="517" y="1545">Thyroid 21</text></g>
</g>

<!-- Legend -->
<g id="legend">
<rect x="11" y="1418" width="270" height="121" fill="#fff" stroke="#444" stroke-width="1.5"/>
<g id="legend-crc"><rect x="28" y="1433" width="21" height="21" fill="#fff" stroke="#111" stroke-width="2"/><rect x="39" y="1433" width="10" height="10" fill="#111"/><text class="lg" x="68" y="1449">CRC</text></g>
<g id="legend-sps"><rect x="29" y="1467" width="21" height="21" fill="#fff" stroke="#bbb" stroke-width="1"/><rect x="40" y="1478" width="10" height="10" fill="#9c9c9c"/><text class="lg" x="68" y="1486">SPS</text></g>
<g id="legend-oc"><rect x="29" y="1503" width="21" height="21" fill="#fff" stroke="#e6e6e6" stroke-width="1"/><rect x="29" y="1514" width="10" height="10" fill="#d4d4d4"/><text class="lg" x="67" y="1523">Other cancers</text></g>
</g>

<!-- SPS.16 -->
<g id="sps16" font-size="4.5">
<text class="h" x="607" y="1303">SPS.16</text>
<g id="sps16-links" class="c"><path d="M684,1328H704M694,1328V1377M596,1377H792M596,1377V1384.5M634,1377V1384.5M671,1377V1384.5M792,1377V1384.5M799.5,1392H821.5M810,1392V1441M727,1441H895M727,1441V1448.5M764,1441V1448.5M801,1441V1448.5M838,1441V1448.5M895,1441V1448.5M939.5,1392H961.5M950,1392V1441M931,1441H968M931,1441V1448.5M968,1441V1448.5M671,1406V1441M652,1441H690M652,1441V1448.5M690,1441V1448.5M902.5,1456H923.5M914,1456V1505M876,1505H950M876,1505V1512M914,1505V1512M950,1505V1512M801,1476V1505M764,1505H838M764,1505V1512M801,1505V1512M838,1505V1512"/></g>
<g id="sps16-i1"><rect class="n" x="668" y="1320" width="16" height="16"/><path class="c" d="M664.8,1339.2l22.4,-22.4"/></g>
<g id="sps16-i2"><circle class="n" cx="712" cy="1328" r="8"/><path class="c" d="M700.8,1339.2l22.4,-22.4"/></g>
<g id="sps16-ii1"><rect class="n" x="588.5" y="1384.5" width="15" height="15"/><path class="c" d="M585.5,1402.5l21,-21"/></g>
<g id="sps16-ii2"><circle class="n" cx="634" cy="1392" r="7.5"/></g>
<g id="sps16-ii3"><circle class="n" cx="671" cy="1392" r="7.5"/><path class="o" d="M663.5,1392h7.5v7.5"/><path class="c" d="M660.5,1402.5l21,-21"/><text x="671" y="1405">Stomach 68</text></g>
<g id="sps16-ii4"><rect class="n" x="784.5" y="1384.5" width="15" height="15"/><path class="o" d="M784.5,1392h7.5v7.5"/><path class="c" d="M781.5,1402.5l21,-21"/><text x="792" y="1405">62<tspan x="792" dy="5.5">Stomach 61</tspan></text></g>
<g id="sps16-ii5"><circle class="n" cx="829" cy="1392" r="7.5"/><path class="c" d="M818.5,1402.5l21,-21"/></g>
<g id="sps16-ii6"><rect class="n" x="924.5" y="1384.5" width="15" height="15"/><path class="c" d="M921.5,1402.5l21,-21"/></g>
<g id="sps16-ii7"><circle class="n" cx="969" cy="1392" r="7.5"/><path class="c" d="M958.5,1402.5l21,-21"/></g>
<g id="sps16-iii1"><rect class="n" x="644.5" y="1448.5" width="15" height="15"/><rect class="k" x="652" y="1448.5" width="7.5" height="7.5"/><path class="c" d="M641.5,1466.5l21,-21"/><text x="652" y="1469">Colon 67</text></g>
<g id="sps16-iii2"><rect class="n" x="682.5" y="1448.5" width="15" height="15"/><path class="o" d="M682.5,1456h7.5v7.5"/><path class="c" d="M679.5,1466.5l21,-21"/><text x="690" y="1469">Stomach 67</text></g>
<g id="sps16-iii3"><rect class="n" x="719.5" y="1448.5" width="15" height="15"/><path class="c" d="M716.5,1466.5l21,-21"/></g>
<g id="sps16-iii4"><rect class="n" x="756.5" y="1448.5" width="15" height="15"/><path class="o" d="M756.5,1456h7.5v7.5"/><path class="c" d="M753.5,1466.5l21,-21"/><text x="764" y="1469">67<tspan x="764" dy="5.5">Lung 67</tspan></text></g>
<g id="sps16-iii5"><rect class="n" x="793.5" y="1448.5" width="15" height="15"/><path class="o" d="M793.5,1456h7.5v7.5"/><text x="801" y="1469">75<tspan x="801" dy="5.5">Bile duct</tspan></text></g>
<g id="sps16-iii6"><circle class="n" cx="838" cy="1456" r="7.5"/><text x="838" y="1457.5">4</text></g>
<g id="sps16-iii7"><rect class="n" x="887.5" y="1448.5" width="15" height="15"/><path class="o" d="M887.5,1456h7.5v7.5"/><path class="c" d="M884.5,1466.5l21,-21"/><text x="895" y="1469">71<tspan x="895" dy="5.5">Stomach 72</tspan></text></g>
<g id="sps16-iii8"><circle class="n" cx="931" cy="1456" r="7.5"/><path class="o" d="M923.5,1456h7.5v7.5"/><path class="c" d="M920.5,1466.5l21,-21"/><text x="931" y="1469">71<tspan x="931" dy="5.5">Brain 71</tspan></text></g>
<g id="sps16-iii9"><rect class="n" x="960.5" y="1448.5" width="15" height="15"/><path class="o" d="M960.5,1456h7.5v7.5"/><path class="c" d="M957.5,1466.5l21,-21"/><text x="968" y="1469">62<tspan x="968" dy="5.5">Pancreas 61</tspan></text></g>
<g id="sps16-iv1"><circle class="n" cx="764" cy="1520" r="8"/></g>
<g id="sps16-iv2"><rect class="n" x="793" y="1512" width="16" height="16"/></g>
<g id="sps16-iv3"><rect class="n" x="830" y="1512" width="16" height="16"/></g>
<g id="sps16-iv4"><rect class="n" x="868" y="1512" width="16" height="16"/><text x="876" y="1534">54</text></g>
<g id="sps16-iv5"><rect class="n" x="906" y="1512" width="16" height="16"/><rect class="q" x="914" y="1520" width="8" height="8"/><text x="914" y="1534">52<tspan x="914" dy="6">SPS</tspan><tspan x="914" dy="6">AA3574</tspan></text></g>
<g id="sps16-iv6"><circle class="n" cx="950" cy="1520" r="8"/><path class="q" d="M950,1520h8a8,8 0 0 1 -8,8z"/><use href="#pb" transform="translate(957,1506) scale(.6)"/><text x="950" y="1534">49<tspan x="950" dy="6">SPS</tspan><tspan x="950" dy="6">AA3573</tspan></text></g>
</g>
</svg>
